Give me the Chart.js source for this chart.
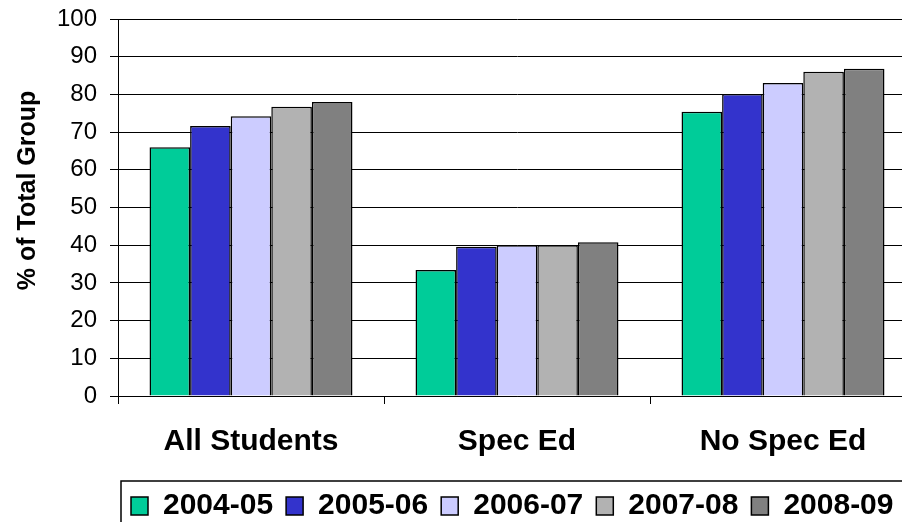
<!DOCTYPE html>
<html>
<head>
<meta charset="utf-8">
<script src="https://cdn.jsdelivr.net/npm/chart.js@4.4.1/dist/chart.umd.min.js"></script>
<style>
  html, body { margin: 0; padding: 0; background: #fff; overflow: hidden; }
  #wrap { width: 916px; height: 522px; }
</style>
</head>
<body>
<div id="wrap"><canvas id="chart" width="916" height="522"></canvas></div>
<script>
const categories = ["All Students", "Spec Ed", "No Spec Ed"];
const years = ["2004-05", "2005-06", "2006-07", "2007-08", "2008-09"];
const colors = ["#00CC99", "#3333CC", "#CCCCFF", "#B2B2B2", "#808080"];

const y2004 = [66.0, 33.4, 75.4];
const y2005 = [71.6, 39.6, 80.1];
const y2006 = [74.2, 40.0, 83.0];
const y2007 = [76.7, 40.0, 86.0];
const y2008 = [78.0, 40.8, 86.8];
const series = [y2004, y2005, y2006, y2007, y2008];

const yTicks = [0, 10, 20, 30, 40, 50, 60, 70, 80, 90, 100];
const yTitle = "% of Total Group";

const FONT = "'Liberation Sans', Arial, sans-serif";
Chart.defaults.font.family = FONT;
Chart.defaults.color = "#000";

// box around the legend, like the excel one
const legendBox = {
  id: "legendBox",
  afterDraw(chart) {
    const ctx = chart.ctx;
    const lg = chart.legend;
    ctx.save();
    ctx.strokeStyle = "#000";
    ctx.lineWidth = 1.5;
    ctx.strokeRect(chart.chartArea.left + 3, lg.top + 3, 1000, 200);
    ctx.restore();
  }
};

// y title sits a bit above the middle of the plot in the original
const sideTitle = {
  id: "sideTitle",
  afterDraw(chart) {
    const ctx = chart.ctx;
    const area = chart.chartArea;
    ctx.save();
    ctx.translate(28, (area.top + area.bottom) / 2 - 17);
    ctx.rotate(-Math.PI / 2);
    ctx.font = "bold 25px " + FONT;
    ctx.fillStyle = "#000";
    ctx.textAlign = "center";
    ctx.textBaseline = "middle";
    ctx.fillText(yTitle, 0, 0);
    ctx.restore();
  }
};

const ctx = document.getElementById("chart").getContext("2d");

new Chart(ctx, {
  type: "bar",
  data: {
    labels: categories,
    datasets: years.map((yr, i) => ({
      label: yr,
      data: series[i],
      backgroundColor: colors[i],
      borderColor: "#000",
      borderWidth: 1.5,
      categoryPercentage: 0.763,
      barPercentage: 1
    }))
  },
  options: {
    responsive: false,
    animation: false,
    layout: { padding: { left: 0, top: 19, right: 0, bottom: 0 } },
    plugins: {
      tooltip: { enabled: false },
      legend: {
        position: "bottom",
        align: "start",
        fullSize: false,
        maxHeight: 44,
        labels: {
          boxWidth: 17,
          boxHeight: 18,
          padding: 13,
          color: "#000",
          font: { size: 30, weight: "bold", family: FONT }
        }
      }
    },
    scales: {
      x: {
        grid: {
          display: true,
          drawOnChartArea: false,
          offset: true,
          color: "#000",
          tickLength: 8
        },
        border: { color: "#000", width: 1 },
        ticks: {
          padding: 20,
          color: "#000",
          font: { size: 30, weight: "bold", family: FONT }
        },
        afterFit(scale) { scale.height = 82; }
      },
      y: {
        min: 0,
        max: 100,
        afterBuildTicks(scale) { scale.ticks = yTicks.map(v => ({ value: v })); },
        grid: { color: "#000", lineWidth: 1, tickLength: 8 },
        border: { color: "#000", width: 1 },
        ticks: {
          padding: 13,
          color: "#000",
          font: { size: 24, family: FONT }
        },
        afterFit(scale) {
          scale.width = 118;
          // tick padding would otherwise push the plot down
          scale.paddingTop = 0;
        }
      }
    }
  },
  plugins: [legendBox, sideTitle]
});
</script>
</body>
</html>
